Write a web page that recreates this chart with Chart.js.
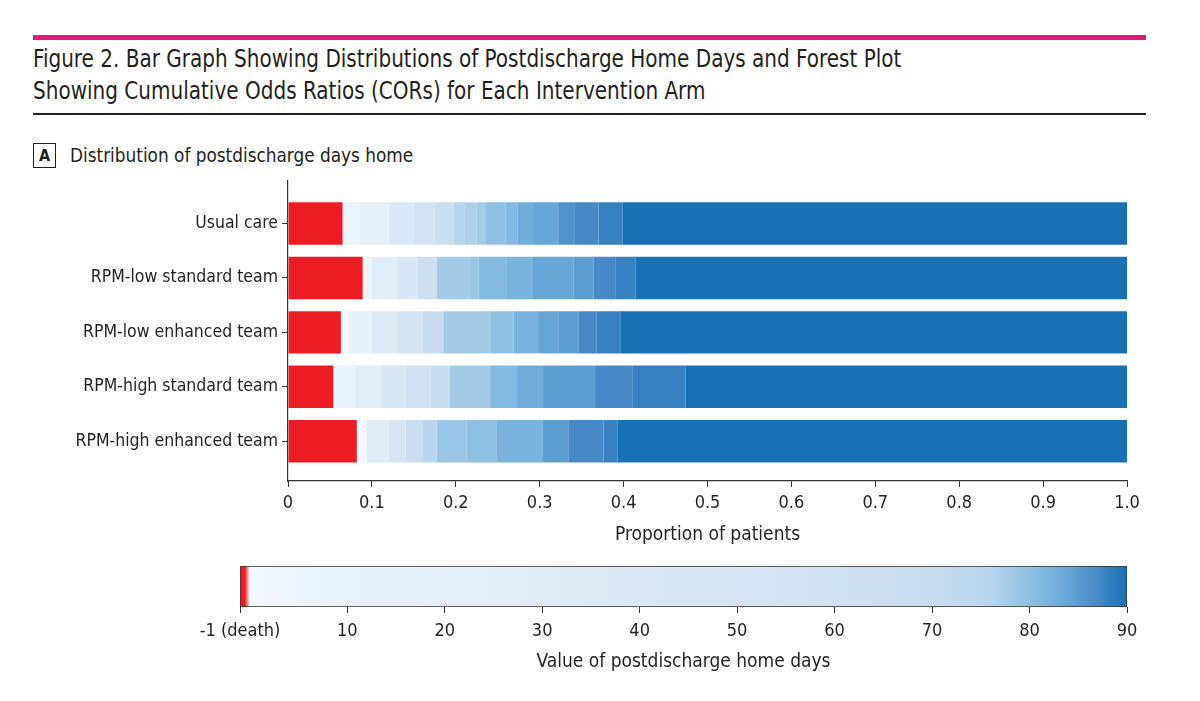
<!DOCTYPE html>
<html lang="en">
<head>
    <meta charset="UTF-8">
    <title>Figure 2</title>
    <script src="https://cdn.jsdelivr.net/npm/chart.js"></script>
    <style>
        body {
            margin: 0;
            width: 1200px;
            height: 701px;
            position: relative;
            overflow: hidden;
            background: #fff;
            color: #231f20;
            font-family: 'Liberation Sans Narrow', 'DejaVu Sans Condensed', sans-serif;
        }
        .pink { position: absolute; left: 33px; top: 35px; width: 1113px; height: 5px; background: #e2187c; }
        .title { position: absolute; left: 33px; top: 43px; font-size: 25px; line-height: 32px;
                 white-space: nowrap; transform: scaleX(0.89); transform-origin: left top; }
        .rule { position: absolute; left: 33px; top: 113px; width: 1113px; height: 2px; background: #231f20; }
        .panel-box { position: absolute; left: 33px; top: 143px; width: 21px; height: 23px; border: 1.5px solid #231f20;
                     font-weight: bold; font-size: 16px; line-height: 23px; text-align: center; }
        .panel-text { position: absolute; left: 70px; top: 142px; font-size: 20px; line-height: 26px;
                      white-space: nowrap; transform: scaleX(0.94); transform-origin: left top; }
        #mainChart { position: absolute; left: 0; top: 166px; }
        #scaleChart { position: absolute; left: 0; top: 555px; }
    </style>
</head>
<body>
<div class="pink"></div>
<div class="title">Figure 2. Bar Graph Showing Distributions of Postdischarge Home Days and Forest Plot<br>Showing Cumulative Odds Ratios (CORs) for Each Intervention Arm</div>
<div class="rule"></div>
<div class="panel-box">A</div>
<div class="panel-text">Distribution of postdischarge days home</div>

<canvas id="mainChart" width="1200" height="384"></canvas>
<canvas id="scaleChart" width="1200" height="120"></canvas>

<script>
    // arms, top to bottom
    const arms = ['Usual care', 'RPM-low standard team', 'RPM-low enhanced team',
                  'RPM-high standard team', 'RPM-high enhanced team'];

    // proportion of patients in each days-home band, left to right
    const usualCareShares   = [0.065, 0.020, 0.035, 0.030, 0.025, 0.022, 0.013, 0.015, 0.010, 0.024, 0.015, 0.018, 0.030, 0.020, 0.028, 0.029, 0.601];
    const lowStandardShares = [0.089, 0.011, 0.030, 0.025, 0.022, 0.040, 0.010, 0.034, 0.030, 0.049, 0.024, 0.026, 0.024, 0.586];
    const lowEnhancedShares = [0.063, 0.009, 0.028, 0.030, 0.030, 0.025, 0.056, 0.028, 0.029, 0.024, 0.024, 0.022, 0.028, 0.604];
    const highStandardShares = [0.054, 0.026, 0.030, 0.030, 0.030, 0.023, 0.048, 0.032, 0.031, 0.062, 0.045, 0.063, 0.526];
    const highEnhancedShares = [0.082, 0.012, 0.026, 0.020, 0.021, 0.016, 0.036, 0.036, 0.055, 0.030, 0.042, 0.017, 0.607];

    // days-home value of each band above (-1 = death)
    const usualCareDays    = [-1, 5, 20, 40, 55, 68, 76, 77, 78, 80, 81, 83, 84, 86, 87, 88, 90];
    const lowStandardDays  = [-1, 5, 25, 45, 65, 78, 79, 81, 82, 84, 85, 87, 88, 90];
    const lowEnhancedDays  = [-1, 0, 15, 35, 55, 70, 78, 80, 82, 84, 85, 87, 88, 90];
    const highStandardDays = [-1, 10, 25, 45, 60, 70, 78, 81, 83, 85, 87, 88, 90];
    const highEnhancedDays = [-1, 0, 30, 50, 68, 76, 79, 80, 82, 85, 87, 88, 90];

    const proportionTicks = [0, 0.1, 0.2, 0.3, 0.4, 0.5, 0.6, 0.7, 0.8, 0.9, 1.0];
    const dayTicks = [-1, 10, 20, 30, 40, 50, 60, 70, 80, 90];
    const dayRange = [-1, 90];

    // colour map for days home
    const cmapDays   = [-1, -0.5, 0, 10, 30, 50, 70, 76, 80, 84, 87, 90];
    const cmapColors = ['#ec1c24', '#ec1c24', '#f2f8fd', '#e8f2fa', '#dfecf7', '#d5e5f4', '#c8ddf0',
                        '#b8d5ed', '#8ec0e3', '#66a7d7', '#4689c6', '#1870b5'];

    const allShares = [usualCareShares, lowStandardShares, lowEnhancedShares, highStandardShares, highEnhancedShares];
    const allDays = [usualCareDays, lowStandardDays, lowEnhancedDays, highStandardDays, highEnhancedDays];

    const fam = "'Liberation Sans Narrow', 'DejaVu Sans Condensed', sans-serif";
    const ink = '#231f20';

    function hexRgb(h) {
        return [1, 3, 5].map(i => parseInt(h.slice(i, i + 2), 16));
    }

    function dayColor(d) {
        if (d <= cmapDays[0]) return cmapColors[0];
        for (let i = 1; i < cmapDays.length; i++) {
            if (d <= cmapDays[i]) {
                const t = (d - cmapDays[i - 1]) / (cmapDays[i] - cmapDays[i - 1]);
                const a = hexRgb(cmapColors[i - 1]), b = hexRgb(cmapColors[i]);
                const c = a.map((v, k) => Math.round(v + (b[k] - v) * t));
                return `rgb(${c[0]},${c[1]},${c[2]})`;
            }
        }
        return cmapColors[cmapColors.length - 1];
    }

    // one dataset per band position, stacked along x
    const bandCount = Math.max(...allShares.map(s => s.length));
    const datasets = [];
    for (let k = 0; k < bandCount; k++) {
        datasets.push({
            data: arms.map((a, i) => ({ x: allShares[i][k] || 0, y: i })),
            backgroundColor: arms.map((a, i) => dayColor(allDays[i][k] !== undefined ? allDays[i][k] : 90)),
            borderWidth: 0,
            barPercentage: 0.78,
            categoryPercentage: 1
        });
    }

    new Chart(document.getElementById('mainChart').getContext('2d'), {
        type: 'bar',
        data: { datasets: datasets },
        options: {
            responsive: false,
            animation: false,
            indexAxis: 'y',
            layout: { padding: { top: 6, right: 73, left: 0, bottom: 4 } },
            plugins: { legend: { display: false }, tooltip: { enabled: false } },
            scales: {
                x: {
                    type: 'linear', stacked: true, min: 0, max: 1,
                    afterBuildTicks: s => { s.ticks = proportionTicks.map(v => ({ value: v })); },
                    afterFit: s => { s.height = 65; },
                    grid: { drawOnChartArea: false, tickLength: 6, color: '#333' },
                    border: { color: '#333', width: 1.2 },
                    ticks: {
                        color: ink, padding: 6, maxRotation: 0,
                        font: { size: 18, family: fam },
                        callback: v => v === 0 ? '0' : v.toFixed(1)
                    },
                    title: {
                        display: true, text: 'Proportion of patients', color: ink,
                        font: { size: 19, family: fam }, padding: { top: 6, bottom: 0 }
                    }
                },
                y: {
                    type: 'linear', stacked: true, reverse: true, min: -0.79, max: 4.73,
                    offset: false,
                    afterBuildTicks: s => { s.ticks = arms.map((a, i) => ({ value: i })); },
                    afterFit: s => { s.width = 288; },
                    grid: { drawOnChartArea: false, offset: false, tickLength: 6, color: '#333' },
                    border: { color: '#333', width: 1.2 },
                    ticks: {
                        color: ink, padding: 4,
                        font: { size: 17.5, family: fam },
                        callback: v => arms[v]
                    }
                }
            }
        }
    });

    // colour scale bar
    new Chart(document.getElementById('scaleChart').getContext('2d'), {
        type: 'bar',
        data: {
            labels: [''],
            datasets: [{
                data: [dayRange],
                backgroundColor: ctx => {
                    const chart = ctx.chart;
                    if (!chart.chartArea) return cmapColors[2];
                    const xs = chart.scales.x;
                    const x0 = xs.getPixelForValue(dayRange[0]), x1 = xs.getPixelForValue(dayRange[1]);
                    const g = chart.ctx.createLinearGradient(x0, 0, x1, 0);
                    cmapDays.forEach((d, i) => {
                        g.addColorStop((d - dayRange[0]) / (dayRange[1] - dayRange[0]), cmapColors[i]);
                    });
                    return g;
                },
                borderColor: '#333',
                borderWidth: 1,
                borderSkipped: false,
                barPercentage: 1,
                categoryPercentage: 1
            }]
        },
        options: {
            responsive: false,
            animation: false,
            indexAxis: 'y',
            layout: { padding: { top: 11, right: 73, left: 240, bottom: 2 } },
            plugins: { legend: { display: false }, tooltip: { enabled: false } },
            scales: {
                x: {
                    type: 'linear', min: dayRange[0], max: dayRange[1],
                    afterBuildTicks: s => { s.ticks = dayTicks.map(v => ({ value: v })); },
                    afterFit: s => { s.height = 66; },
                    grid: { drawOnChartArea: false, tickLength: 6, color: '#333' },
                    border: { display: false },
                    ticks: {
                        color: ink, padding: 8, maxRotation: 0,
                        font: { size: 18, family: fam },
                        callback: v => v === -1 ? '-1 (death)' : String(v)
                    },
                    title: {
                        display: true, text: 'Value of postdischarge home days', color: ink,
                        font: { size: 19, family: fam }, padding: { top: 6, bottom: 0 }
                    }
                },
                y: { display: false }
            }
        }
    });
</script>
</body>
</html>
